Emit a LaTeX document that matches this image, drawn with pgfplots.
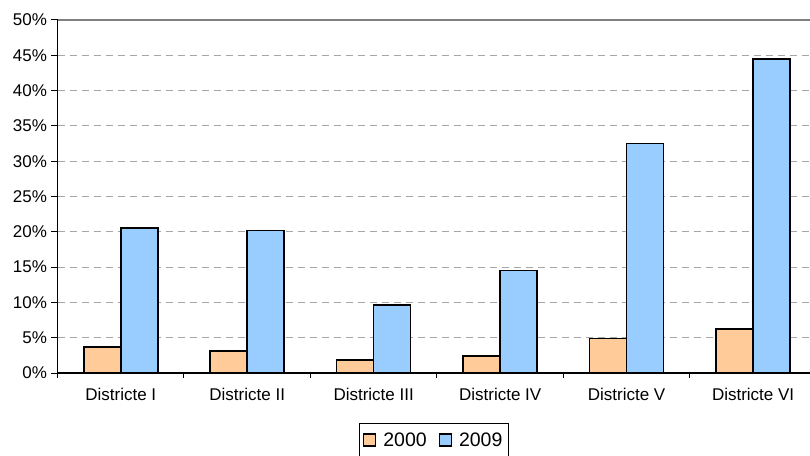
\documentclass[border=0pt]{standalone}
\usepackage{pgfplots}
\pgfplotsset{compat=1.18}
\usepackage{fontspec}
\setmainfont{Liberation Sans}
\definecolor{c2000}{HTML}{FFCC99}
\definecolor{c2009}{HTML}{99CCFF}
\definecolor{gridc}{HTML}{A6A6A6}
\begin{document}
\begin{tikzpicture}
\begin{axis}[
  scale only axis,
  width=752.5pt, height=353pt,
  xmin=-0.5, xmax=5.45,
  ymin=0, ymax=50,
  ybar=0pt, bar width=37pt,
  axis lines*=left,
  axis line style={black, line width=1.2pt},
  xtick={0,1,2,3,4,5},
  xticklabels={Districte I, Districte II, Districte III, Districte IV, Districte V, Districte VI},
  major x tick style={draw=none},
  minor xtick={-0.5,0.5,1.5,2.5,3.5,4.5},
  minor x tick style={black, line width=1pt},
  minor tick length=5pt,
  tick align=outside,
  ytick={0,5,...,45},
  extra y ticks={50},
  extra y tick style={grid style={solid, draw=gray, line width=1.8pt}},
  major y tick style={black, line width=1pt},
  major tick length=6pt,
  ymajorgrids,
  grid style={dashed, dash pattern=on 7pt off 5pt, draw=gridc, line width=0.9pt},
  /pgf/number format/assume math mode=true,
  yticklabel={\pgfmathprintnumber{\tick}\%},
  ticklabel style={font=\fontsize{17}{20}\selectfont},
  yticklabel style={xshift=-1pt},
  xticklabel style={yshift=-6pt},
  legend style={at={(0.5,0)}, anchor=north, yshift=-50pt, draw=black, line width=1pt,
    font=\fontsize{19.5}{22}\selectfont, legend columns=2,
    inner xsep=4pt, inner ysep=7pt,
    /tikz/every odd column/.append style={column sep=5pt},
    /tikz/every even column/.append style={column sep=10pt}},
  legend image code/.code={\draw[#1, line width=1.3pt] (0pt,-6pt) rectangle (12pt,6pt);},
]
\addplot[fill=c2000, draw=black, line width=1.6pt] coordinates {(0,3.7) (1,3.1) (2,1.8) (3,2.4) (4,4.9) (5,6.2)};
\addplot[fill=c2009, draw=black, line width=1.6pt] coordinates {(0,20.5) (1,20.2) (2,9.6) (3,14.5) (4,32.5) (5,44.5)};
\legend{2000, 2009}
\end{axis}
\pgfresetboundingbox
\path[use as bounding box] (-57.5pt,-82pt) rectangle (752.5pt,373pt);
\end{tikzpicture}
\end{document}
